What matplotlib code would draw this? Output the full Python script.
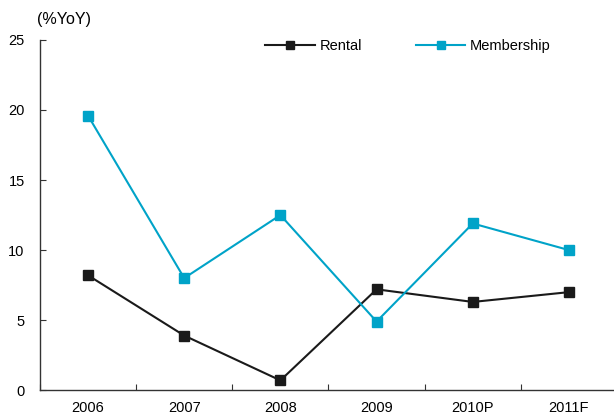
import matplotlib.pyplot as plt
import numpy as np

plt.rcParams['font.family'] = ['Liberation Sans', 'DejaVu Sans']

years = ["2006", "2007", "2008", "2009", "2010P", "2011F"]
rental = [8.2, 3.9, 0.7, 7.2, 6.3, 7.0]
membership = [19.6, 8.0, 12.5, 4.9, 11.9, 10.0]

fig = plt.figure(figsize=(6.14, 4.16), dpi=100)
ax = fig.add_axes([0.065, 0.062, 0.94, 0.842])

x = np.arange(len(years))
ax.plot(x, rental, color="#1a1a1a", marker="s", markersize=7.5, linewidth=1.5, label="Rental")
ax.plot(x, membership, color="#00a3c8", marker="s", markersize=7.5, linewidth=1.5, label="Membership")

ax.set_xlim(-0.5, len(years) - 0.5)
ax.set_ylim(0, 25)
ax.set_yticks(range(0, 26, 5))

# boundary ticks between categories, labels centred
ax.set_xticks(np.arange(-0.5, len(years), 1.0))
ax.set_xticklabels([])
ax.set_xticks(x, minor=True)
ax.set_xticklabels(years, minor=True)
ax.tick_params(axis="x", which="major", direction="in", length=4, color="#333333")
ax.tick_params(axis="x", which="minor", length=0, pad=8, labelsize=10.5)
ax.tick_params(axis="y", direction="in", length=4, pad=11, labelsize=10.5, color="#333333")

for s in ["top", "right"]:
    ax.spines[s].set_visible(False)
for s in ["left", "bottom"]:
    ax.spines[s].set_color("#333333")
    ax.spines[s].set_linewidth(1.0)

fig.text(0.06, 0.952, "(%YoY)", fontsize=11.5, va="center")

ax.legend(loc="upper left", bbox_to_anchor=(0.411, 0.938), bbox_transform=fig.transFigure,
          ncol=2, frameon=False, fontsize=10.5, handlelength=3.4, handletextpad=0.3,
          columnspacing=3.7, markerscale=0.75)

fig.savefig("out.png", dpi=100)
